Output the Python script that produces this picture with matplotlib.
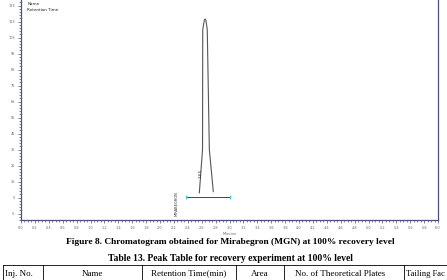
import numpy as np
import matplotlib
matplotlib.use('Agg')
import matplotlib.pyplot as plt
from matplotlib.ticker import AutoMinorLocator
from matplotlib.lines import Line2D

# Chromatogram trace (minutes, response)
trace_time = [2.566, 2.612, 2.615, 2.638, 2.648, 2.660, 2.680, 2.710, 2.767]
trace_resp = [8.0, 35.0, 110.0, 116.0, 116.6, 116.0, 110.0, 35.0, 8.7]

peak_rt = '2.65'
peak_name = 'MIRABEGRON'
baseline_time = [2.37, 3.01]
baseline_resp = [5.2, 5.2]

x_ticks = [round(0.2 * i, 1) for i in range(31)]
y_ticks = [-5, 5, 15, 25, 35, 45, 55, 65, 75, 85, 95, 105, 115, 125]

figure_caption = 'Figure 8. Chromatogram obtained for Mirabegron (MGN) at 100% recovery level'
table_caption = 'Table 13. Peak Table for recovery experiment at 100% level'
table_headers = ['Inj. No.', 'Name', 'Retention Time(min)', 'Area',
                 'No. of Theoretical Plates', 'Tailing Fac']

W, H = 447, 280
fig = plt.figure(figsize=(W / 100, H / 100), dpi=100)
ax = fig.add_axes([21 / W, 1 - 220 / H, (438 - 21) / W, 220 / H])

spine_col = '#4e4e80'
ax.plot(trace_time, trace_resp, color='#555555', lw=0.8)
ax.plot(baseline_time, baseline_resp, color='#3d4a3d', lw=0.7)
ax.plot(baseline_time, baseline_resp, ls='none', marker='|', ms=3,
        mew=0.8, color='#33dddd')

ax.text(2.61, 20, peak_rt, rotation=90, fontsize=3, ha='right', va='center',
        color='#333333')
ax.text(2.24, -6.5, peak_name, rotation=90, fontsize=2.6, ha='center',
        va='bottom', color='#333333')

ax.set_xlim(0, 6.0)
ax.set_ylim(-9, 128.5)
ax.set_xticks(x_ticks)
ax.set_xticklabels([f'{t:.1f}' for t in x_ticks])
ax.set_yticks(y_ticks)
ax.set_yticklabels([str(v) for v in y_ticks])
ax.xaxis.set_minor_locator(AutoMinorLocator(4))
ax.yaxis.set_minor_locator(AutoMinorLocator(5))
ax.tick_params(which='both', labelsize=2.5, labelcolor='#666666',
               color=spine_col, width=0.5, pad=2)
ax.tick_params(which='major', length=2)
ax.tick_params(which='minor', length=1.2)
for side in ['left', 'bottom', 'right']:
    ax.spines[side].set_color(spine_col)
    ax.spines[side].set_linewidth(0.9)
ax.spines['top'].set_visible(False)
ax.set_xlabel('Minutes', fontsize=2.5, color='#666666', labelpad=2)

ax.text(0.015, 0.99, 'Name', transform=ax.transAxes, fontsize=3,
        va='top', color='#222222')
ax.text(0.015, 0.965, 'Retention Time', transform=ax.transAxes, fontsize=3,
        va='top', color='#222222')

# captions and table header of the document page
fig.text(230 / W, 1 - 242 / H, figure_caption, ha='center', va='center',
         fontsize=6.75, fontweight='bold', family='Liberation Serif')
fig.text(230 / W, 1 - 258.5 / H, table_caption, ha='center', va='center',
         fontsize=6.9, fontweight='bold', family='Liberation Serif')

col_centers = [19, 92, 189, 260, 340, 445]
sep_x = [3, 43, 142, 236, 284, 404]
for i, h in enumerate(table_headers):
    fig.text(col_centers[i] / W, 1 - 273.5 / H, h,
             ha='center' if i < 5 else 'right', va='center',
             fontsize=6.5 if i < 5 else 6.1, family='Liberation Serif')
fig.add_artist(Line2D([3 / W, 1], [1 - 265 / H] * 2, color='black', lw=0.6))
for x in sep_x:
    fig.add_artist(Line2D([x / W] * 2, [1 - 265 / H, 0], color='black', lw=0.6))

fig.savefig('out.png', dpi=100)
